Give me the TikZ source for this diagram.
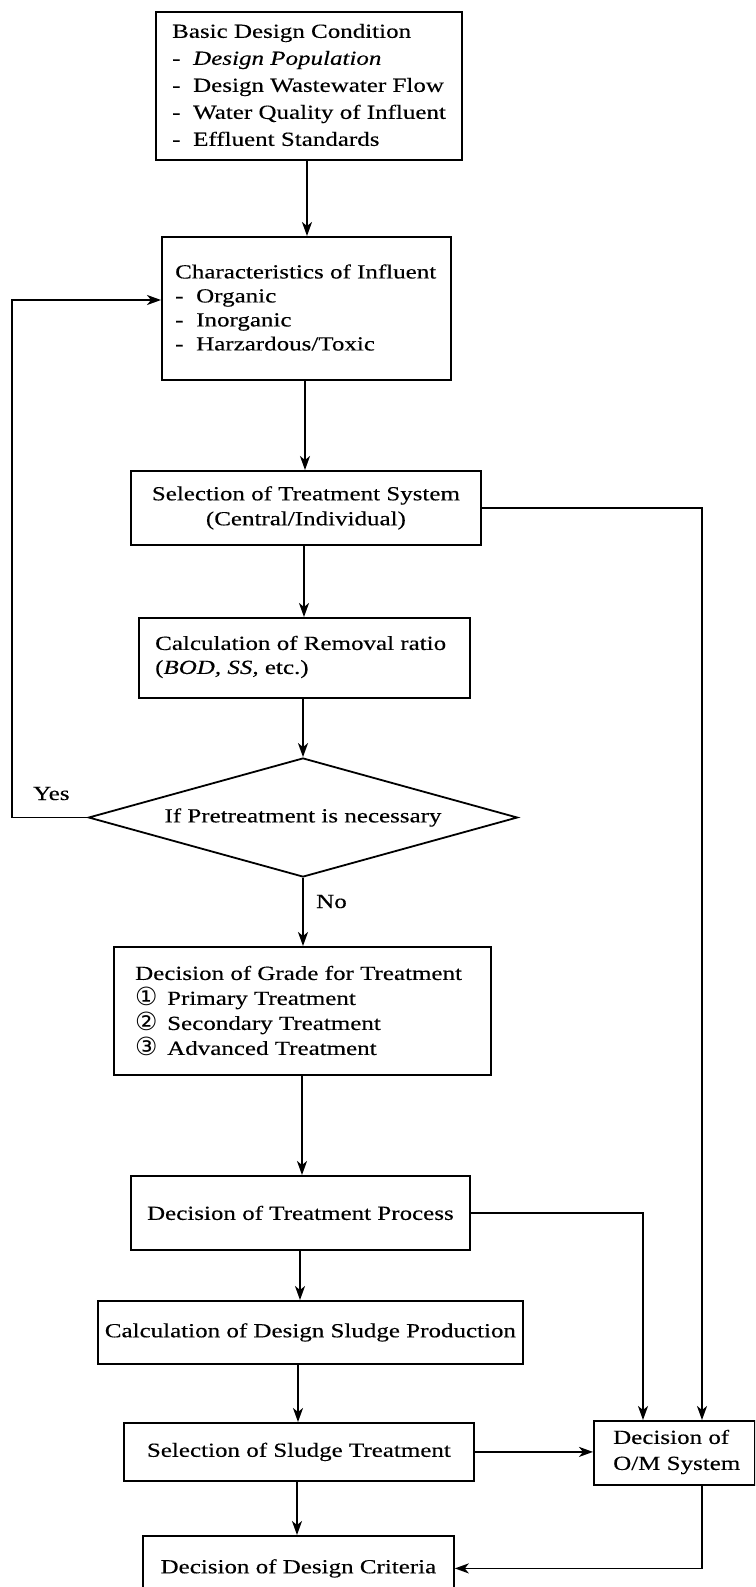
\documentclass[tikz,border=0pt]{standalone}
\usepackage{fontspec}
\setmainfont{Liberation Serif}[FakeStretch=1.25,FakeBold=0.3]
\newfontfamily\circfont{DejaVu Sans}
\usetikzlibrary{shapes.geometric,arrows.meta}
% hyphen bullet and circled-number bullet of fixed width
\newcommand\dsh{\makebox[21pt][l]{-}}
\newcommand\cnum[1]{\makebox[32pt][l]{\raisebox{-1pt}{\circfont\fontsize{25}{25}\selectfont #1}}}
\begin{document}
\begin{tikzpicture}[x=1pt,y=-1pt,
  font=\fontsize{20}{25}\selectfont,
  box/.style={draw, line width=1.8pt, inner sep=0pt, anchor=north west, align=center},
  txt/.style={align=left, inner sep=0pt, anchor=west},
  lbl/.style={inner sep=0pt, anchor=base west},
  arr/.style={line width=1.8pt, -{Stealth[length=14pt,width=10pt,inset=4pt]}}]

\useasboundingbox (0,0) rectangle (755,1587);
\clip (0,0) rectangle (755,1587);

% boxes
\node[box, minimum width=306pt, minimum height=148pt] (b1) at (155,11) {};
\node[txt, font=\fontsize{20}{27}\selectfont] (t1) at (172,85) {Basic Design Condition\\
  \dsh\textit{Design Population}\\
  \dsh Design Wastewater Flow\\
  \dsh Water Quality of Influent\\
  \dsh Effluent Standards};

\node[box, minimum width=289pt, minimum height=143pt] (b2) at (161,236) {};
\node[txt, font=\fontsize{20}{24}\selectfont] (t2) at (175,307.5) {Characteristics of Influent\\
  \dsh Organic\\
  \dsh Inorganic\\
  \dsh Harzardous/Toxic};

\node[box, minimum width=350pt, minimum height=74pt] (b3) at (130,470)
  {Selection of Treatment System\\(Central/Individual)};

\node[box, minimum width=331pt, minimum height=80pt] (b4) at (138,617) {};
\node[txt, font=\fontsize{20}{24}\selectfont] (t4) at (155,657)
  {Calculation of Removal ratio\\(\textit{BOD, SS,} etc.)};

\node[draw, line width=1.8pt, diamond, aspect=3.6, inner sep=0pt,
  minimum width=429pt, minimum height=119pt] (dia) at (303,817.5)
  {If Pretreatment is necessary};

\node[box, minimum width=377pt, minimum height=128pt] (b5) at (113,946) {};
\node[txt, font=\fontsize{20}{25}\selectfont] (t5) at (135,1011)
  {Decision of Grade for Treatment\\
  \cnum{①}Primary Treatment\\
  \cnum{②}Secondary Treatment\\
  \cnum{③}Advanced Treatment};

\node[box, minimum width=339pt, minimum height=74pt] (b6) at (130,1175)
  {Decision of Treatment Process};
\node[box, minimum width=425pt, minimum height=63pt] (b7) at (97,1300)
  {Calculation of Design Sludge Production};
\node[box, minimum width=350pt, minimum height=58pt] (b8) at (123,1422)
  {Selection of Sludge Treatment};
\node[box, minimum width=311pt, minimum height=65pt] (b9) at (142,1535)
  {Decision of Design Criteria};

\node[box, minimum width=161pt, minimum height=64pt] (om) at (593,1420) {};
\node[txt, font=\fontsize{20}{26}\selectfont] (tom) at (613,1452)
  {Decision of\\O/M System};

% branch labels
\node[lbl] (yes) at (33,800) {Yes};
\node[lbl] (no) at (316,908) {No};

% lanes for the connectors
\coordinate (x1) at (307,0);
\coordinate (x2) at (305,0);
\coordinate (x3) at (304,0);
\coordinate (x4) at (303,0);
\coordinate (x5) at (302,0);
\coordinate (x6) at (300,0);
\coordinate (x7) at (298,0);
\coordinate (x8) at (297,0);
\coordinate (xm) at (643,0);
\coordinate (xr) at (702,0);
\coordinate (fb) at (12,300);

% main sequence
\draw[arr] (b1.south -| x1) -- (b2.north -| x1);
\draw[arr] (b2.south -| x2) -- (b3.north -| x2);
\draw[arr] (b3.south -| x3) -- (b4.north -| x3);
\draw[arr] (b4.south -| x4) -- (dia.north);
\draw[arr] (dia.south) -- (b5.north -| x4);
\draw[arr] (b5.south -| x5) -- (b6.north -| x5);
\draw[arr] (b6.south -| x6) -- (b7.north -| x6);
\draw[arr] (b7.south -| x7) -- (b8.north -| x7);
\draw[arr] (b8.south -| x8) -- (b9.north -| x8);

% pretreatment loop
\draw[arr] (dia.west) -| (fb) -- (fb -| b2.west);

% O/M branches
\draw[arr] (b3.east) -| (om.north -| xr);
\draw[arr] (b6.east) -| (om.north -| xm);
\draw[arr] (b8.east) -- (b8.east -| om.west);
\draw[arr] (om.south -| xr) |- (b9.east);
\end{tikzpicture}
\end{document}
